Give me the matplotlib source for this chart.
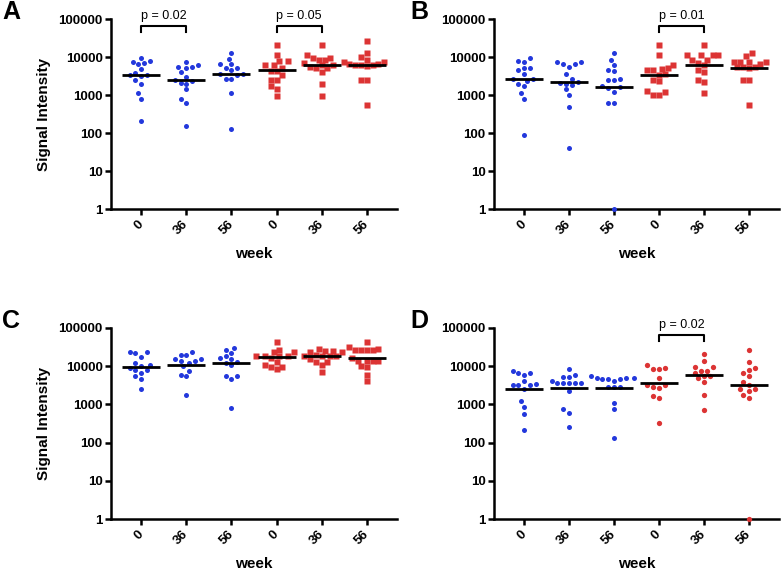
import numpy as np
import matplotlib.pyplot as plt
from matplotlib.ticker import NullLocator

plt.rcParams['font.family'] = ['Liberation Sans', 'DejaVu Sans']

weeks = ['0', '36', '56', '0', '36', '56']
blue = '#2338dc'
red = '#dc3434'

# panel A
a_groups = [
    [9500, 8000, 7500, 7000, 6500, 4800, 3900, 3300, 3300, 3200, 2500, 2000, 1100, 780, 210],
    [7500, 6000, 5500, 5300, 5200, 4000, 3000, 2500, 2400, 2100, 2000, 1400, 800, 620, 150],
    [12500, 9000, 6500, 6500, 5000, 5000, 4500, 3500, 3500, 3400, 2700, 2700, 1100, 130],
    [21000, 11000, 8000, 8000, 6000, 6000, 5000, 4400, 4400, 3300, 2500, 2500, 1700, 1400, 950],
    [21000, 11000, 9500, 9500, 8500, 8500, 7000, 6300, 6000, 5500, 5000, 5000, 4000, 2000, 950],
    [26000, 13000, 10000, 8500, 7500, 7500, 6500, 6400, 6300, 6000, 6000, 5800, 2500, 2500, 530],
]
a_medians = [3300, 2500, 3500, 4450, 6300, 6300]

# panel B
b_groups = [
    [9500, 8000, 7500, 5000, 5000, 4500, 3500, 2700, 2600, 2400, 2000, 1700, 1100, 800, 90],
    [7500, 7500, 6500, 6500, 5500, 3500, 2700, 2200, 2100, 2000, 1800, 1400, 1000, 480, 40],
    [12500, 8500, 6000, 4500, 4200, 2700, 2500, 2500, 1700, 1600, 1500, 1200, 620, 620, 1],
    [21000, 11000, 6000, 5000, 4800, 4500, 4500, 3500, 3400, 2500, 2300, 1300, 1200, 1000, 1000],
    [21000, 11000, 11000, 11000, 11000, 8500, 8500, 7000, 6000, 4500, 4000, 2500, 2200, 1100],
    [12500, 10500, 7500, 7500, 7500, 7500, 6500, 5500, 5500, 5500, 5200, 2500, 2500, 540],
]
b_medians = [2600, 2200, 1620, 3450, 6300, 5200]

# panel C
c_groups = [
    [24000, 23000, 22000, 17000, 12000, 11000, 10000, 9000, 8000, 8000, 6500, 5500, 4500, 2600],
    [23000, 20000, 20000, 15000, 15000, 14000, 14000, 12000, 10000, 7500, 6000, 5500, 1800],
    [30000, 27000, 22000, 19000, 16000, 15000, 13000, 12000, 10500, 5500, 5500, 4500, 800],
    [43000, 27000, 24000, 24000, 18000, 18000, 18000, 18000, 16000, 13000, 11000, 9500, 9500, 8500],
    [29000, 25000, 25000, 23000, 23000, 20000, 18000, 18000, 18000, 18000, 15000, 13000, 13000, 11000, 7000],
    [42000, 31000, 28000, 26000, 26000, 26000, 26000, 16000, 14000, 14000, 14000, 14000, 10000, 9500, 6000, 4000],
]
c_medians = [9800, 10900, 11800, 17800, 18100, 16300]

# panel D
d_groups = [
    [7500, 6500, 6500, 6000, 4200, 3500, 3300, 3300, 3300, 2500, 1200, 850, 550, 210],
    [8500, 5800, 5200, 5200, 4200, 3600, 3600, 3600, 3600, 3600, 2200, 750, 600, 260],
    [5500, 5000, 5000, 5000, 4500, 4500, 4500, 4000, 2800, 2800, 2800, 1100, 750, 130],
    [10500, 9000, 8500, 8500, 5000, 3200, 3200, 2800, 2700, 1700, 1500, 330],
    [21000, 14000, 9500, 9500, 7500, 7500, 6500, 5500, 5500, 4800, 3800, 1800, 700],
    [26000, 13000, 9000, 8000, 6500, 5500, 3800, 3300, 2500, 2500, 2200, 1800, 1500, 1],
]
d_medians = [2530, 2620, 2620, 3640, 5760, 3160]

W, H = 781, 572
DEC = 38.2   # px per decade
UNIT = 45.0  # px per category


def swarm(vals, d=5.8):
    ys = np.log10(vals) * DEC
    cands = sorted(np.arange(-10, 11) * d / 2, key=abs)
    placed = []
    xs = np.zeros(len(vals))
    for i in np.argsort(ys):
        for c in cands:
            if all((c - px) ** 2 + (ys[i] - py) ** 2 >= d * d for px, py in placed):
                break
        placed.append((c, ys[i]))
        xs[i] = c / UNIT
    return xs


fig = plt.figure(figsize=(W / 100, H / 100), dpi=100)


def px_axes(left, top, right, bottom):
    return fig.add_axes([left / W, 1 - bottom / H, (right - left) / W, (bottom - top) / H])


def bracket(ax, x0, x1, text):
    ax.plot([x0, x0, x1, x1], [46800, 65600, 65600, 46800], color='k', lw=1.5, clip_on=False)
    ax.text((x0 + x1) / 2, 1.0e5, text, ha='center', va='baseline', fontsize=9, clip_on=False)


panels = [
    ('A', (111, 19, 397, 209), a_groups, a_medians, 's', True, [(0, 1, 'p = 0.02'), (3, 4, 'p = 0.05')]),
    ('B', (494, 19, 779, 209), b_groups, b_medians, 's', False, [(3, 4, 'p = 0.01')]),
    ('C', (111, 328, 397, 519), c_groups, c_medians, 's', True, []),
    ('D', (494, 328, 779, 519), d_groups, d_medians, 'o', False, [(3, 4, 'p = 0.02')]),
]

for letter, box, groups, medians, red_marker, ylab, brackets in panels:
    ax = px_axes(*box)
    ax.set_yscale('log')
    ax.set_ylim(1, 1e5)
    ax.set_xlim(-0.67, 5.67)
    for i, vals in enumerate(groups):
        vals = np.array(vals, dtype=float)
        xs = i + swarm(vals)
        if i < 3:
            ax.plot(xs, vals, 'o', color=blue, ms=3.6, mec='none', clip_on=False, zorder=3)
        elif red_marker == 's':
            ax.plot(xs, vals, 's', color=red, ms=3.8, mec='none', clip_on=False, zorder=3)
        else:
            ax.plot(xs, vals, 'o', color=red, ms=3.8, mec='none', clip_on=False, zorder=3)
        ax.hlines(medians[i], i - 0.42, i + 0.42, color='k', lw=2, zorder=4)
    for x0, x1, t in brackets:
        bracket(ax, x0, x1, t)

    for s in ['top', 'right']:
        ax.spines[s].set_visible(False)
    for s in ['left', 'bottom']:
        ax.spines[s].set_linewidth(1.8)
    ax.set_yticks([1, 10, 100, 1000, 10000, 100000])
    ax.set_yticklabels(['1', '10', '100', '1000', '10000', '100000'], fontweight='bold', fontsize=9.5)
    ax.yaxis.set_minor_locator(NullLocator())
    ax.set_xticks(range(6))
    ax.set_xticklabels(weeks, rotation=45, ha='right', va='center', rotation_mode='anchor',
                       fontweight='bold', fontsize=9.5)
    ax.tick_params(width=1.8, length=4.5, pad=1.5)
    ax.tick_params(axis='x', pad=5)
    ax.set_xlabel('week', fontweight='bold', fontsize=11, labelpad=7)
    if ylab:
        ax.set_ylabel('Signal Intensity', fontweight='bold', fontsize=11, labelpad=5)

    lx = 2 if box[0] < 300 else 410
    fig.text(lx / W, 1 - (box[1] - 7) / H, letter, fontsize=18, fontweight='bold', va='center')

fig.savefig('out.png', dpi=100)
